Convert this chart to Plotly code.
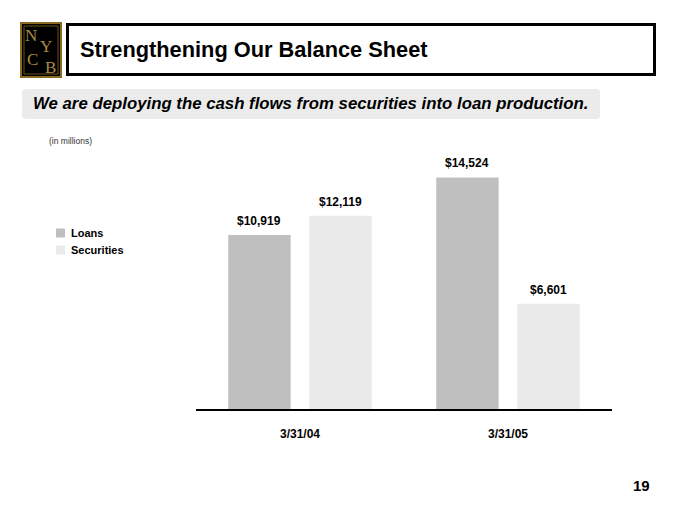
import plotly.graph_objects as go

W, H = 680, 510

categories = ["3/31/04", "3/31/05"]
loans = [10919, 14524]
securities = [12119, 6601]
series_names = ["Loans", "Securities"]
series_colors = ["#bfbfbf", "#eaeaea"]

title_text = "Strengthening Our Balance Sheet"
subtitle_text = "We are deploying the cash flows from securities into loan production."
units_text = "(in millions)"
page_number = "19"

ARIAL = "Arial, Liberation Sans, sans-serif"
NARROW = "Liberation Sans Narrow, Arial Narrow, Arial, Liberation Sans, sans-serif"
SERIF = "Liberation Serif, DejaVu Serif, serif"


def px(x):
    return x / W


def py(y):
    return 1 - y / H


fig = go.Figure()
offsets = [-0.345, 0.045]
BAR_W = 0.3
shapes = []
annotations = []

for name, vals, col, off in zip(series_names, [loans, securities], series_colors, offsets):
    fig.add_trace(go.Bar(
        x=list(range(len(categories))), y=vals, name=name,
        marker=dict(color=col, line=dict(width=0)),
        width=BAR_W, offset=off, showlegend=False,
    ))
    for i, v in enumerate(vals):
        annotations.append(dict(text="<b>$" + format(v, ",") + "</b>", x=i + off + BAR_W / 2, y=v,
                                xref="x", yref="y", showarrow=False, xanchor="center", yanchor="bottom",
                                yshift=5, font=dict(family=ARIAL, size=12, color="black")))

# Logo
shapes.append(dict(type="rect", xref="paper", yref="paper",
                   x0=px(21), x1=px(61), y0=py(77), y1=py(23),
                   fillcolor="#000000", line=dict(color="#8a6a1e", width=2)))
shapes.append(dict(type="rect", xref="paper", yref="paper",
                   x0=px(24), x1=px(58), y0=py(74), y1=py(26),
                   fillcolor="rgba(0,0,0,0)", line=dict(color="#6b5218", width=1)))
for ch, x, y in [("N", 31, 36), ("Y", 46, 46), ("C", 32, 59), ("B", 50, 67.5)]:
    annotations.append(dict(text=ch, x=px(x), y=py(y), xref="paper", yref="paper",
                            showarrow=False, xanchor="center", yanchor="middle",
                            font=dict(family=SERIF, size=17, color="#a88a45")))

# Title box
shapes.append(dict(type="rect", xref="paper", yref="paper",
                   x0=px(67.5), x1=px(654.5), y0=py(74.5), y1=py(24.5),
                   fillcolor="white", line=dict(color="black", width=3)))
annotations.append(dict(text="<b>" + title_text + "</b>", x=px(78), y=py(50), xref="paper", yref="paper",
                        showarrow=False, xanchor="left", yanchor="middle",
                        font=dict(family=NARROW, size=21.8, color="black")))

# Subtitle box
shapes.append(dict(type="path", xref="paper", yref="paper",
                   path=("M {a},{t} L {b},{t} Q {r},{t} {r},{t2} L {r},{b2} Q {r},{bb} {b},{bb} "
                         "L {a},{bb} Q {l},{bb} {l},{b2} L {l},{t2} Q {l},{t} {a},{t} Z").format(
                       l=px(22), r=px(600), t=py(89), bb=py(119),
                       a=px(26), b=px(596), t2=py(93), b2=py(115)),
                   fillcolor="#ebebeb", line=dict(width=0)))
annotations.append(dict(text="<b><i>" + subtitle_text + "</i></b>", x=px(310), y=py(104),
                        xref="paper", yref="paper", showarrow=False,
                        xanchor="center", yanchor="middle",
                        font=dict(family=ARIAL, size=16.8, color="black")))

annotations.append(dict(text=units_text, x=px(47), y=py(141), xref="paper", yref="paper",
                        showarrow=False, xanchor="left", yanchor="middle",
                        font=dict(family=ARIAL, size=8.5, color="#333333")))

# Legend
for i, (name, col) in enumerate(zip(series_names, series_colors)):
    yc = 233 + 17 * i
    shapes.append(dict(type="rect", xref="paper", yref="paper",
                       x0=px(56), x1=px(65), y0=py(yc + 4.5), y1=py(yc - 4.5),
                       fillcolor=col, line=dict(width=0)))
    annotations.append(dict(text="<b>" + name + "</b>", x=px(69), y=py(yc), xref="paper", yref="paper",
                            showarrow=False, xanchor="left", yanchor="middle",
                            font=dict(family=ARIAL, size=11, color="black")))

annotations.append(dict(text="<b>" + page_number + "</b>", x=px(641), y=py(485), xref="paper", yref="paper",
                        showarrow=False, xanchor="center", yanchor="middle",
                        font=dict(family=ARIAL, size=15, color="black")))

fig.update_layout(
    width=W, height=H,
    margin=dict(l=0, r=0, t=0, b=0),
    paper_bgcolor="white", plot_bgcolor="white",
    barmode="overlay",
    showlegend=False,
    shapes=shapes, annotations=annotations,
    xaxis=dict(domain=[196 / W, 612 / W], range=[-0.5, 1.5], showline=True, linecolor="black",
               linewidth=2, showgrid=False, zeroline=False, ticks="outside", ticklen=13,
               tickcolor="rgba(0,0,0,0)", tickmode="array",
               tickvals=list(range(len(categories))),
               ticktext=["<b>" + c + "</b>" for c in categories],
               tickfont=dict(family=ARIAL, size=12, color="black"), fixedrange=True),
    yaxis=dict(domain=[(H - 409) / H, (H - 130) / H], range=[0, 17500], visible=False,
               showgrid=False, zeroline=False, fixedrange=True),
)

fig.write_html("out.html", post_script="document.body.style.margin='0';",
               config={"displayModeBar": False})
